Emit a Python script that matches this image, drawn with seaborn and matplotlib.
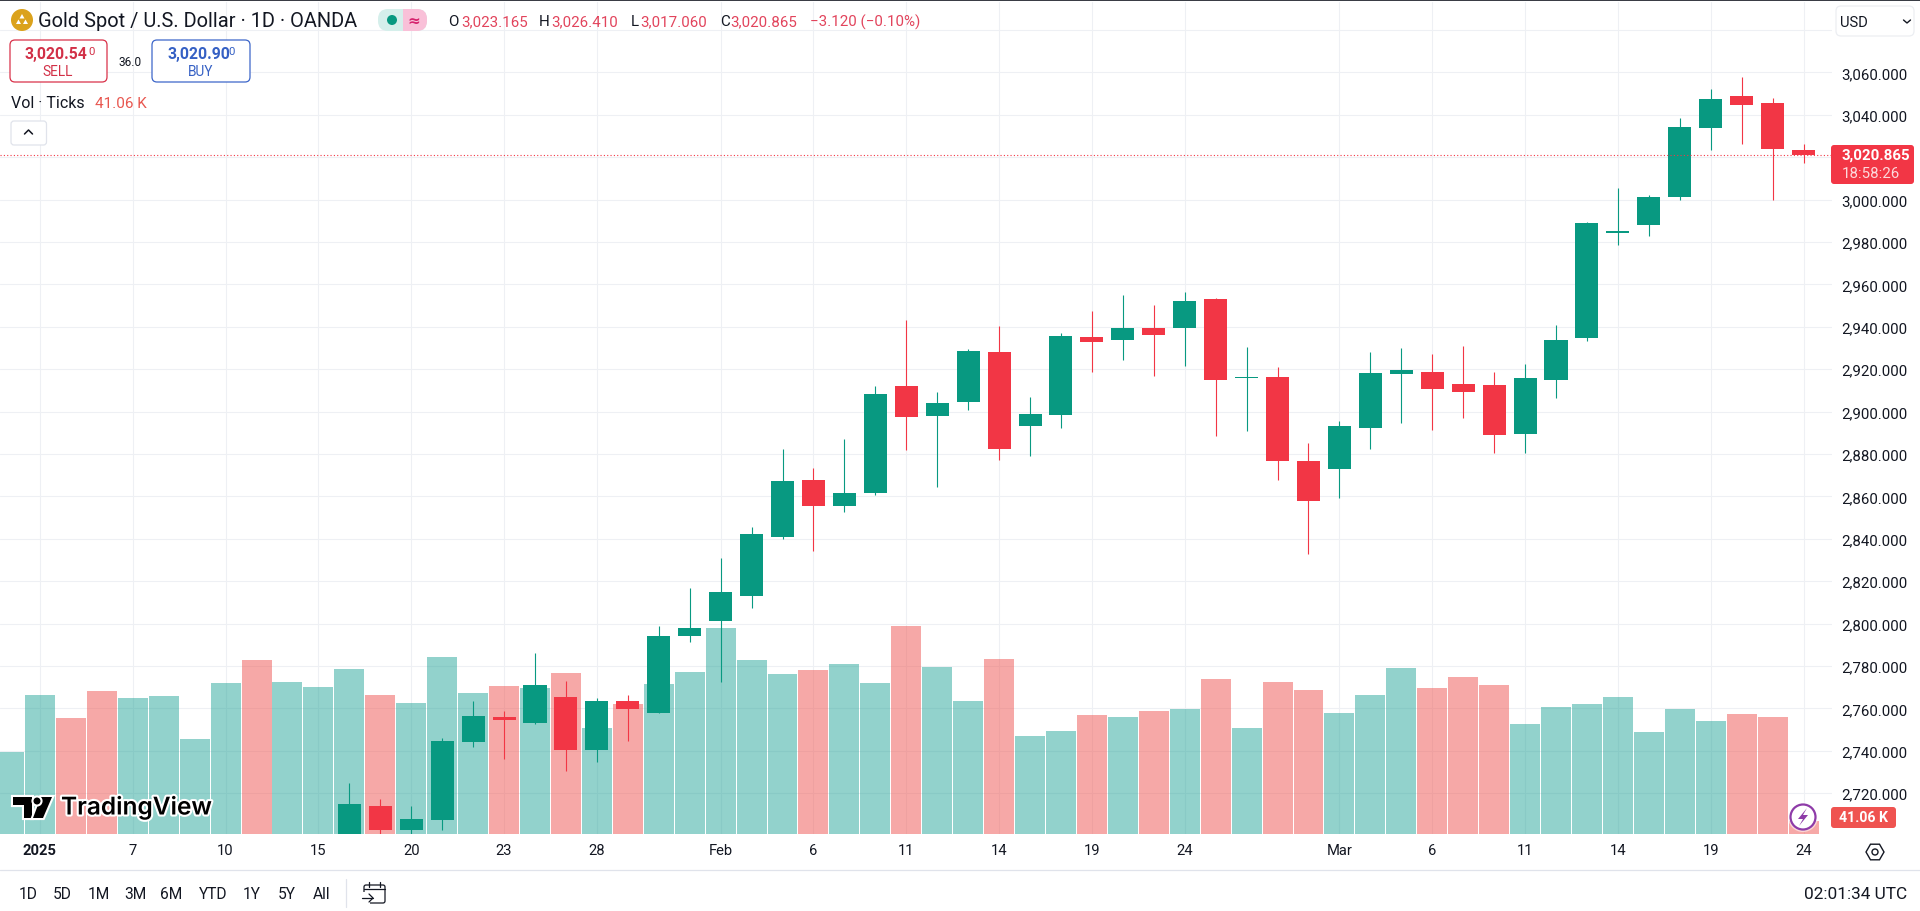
import matplotlib
matplotlib.use("Agg")
import matplotlib.pyplot as plt
import matplotlib.patheffects as pe
from matplotlib.patches import Circle, FancyBboxPatch, Polygon, Rectangle, RegularPolygon
import pandas as pd
import seaborn as sns

GREEN = "#089981"
RED = "#F23645"
VOL_GREEN = "#26a69a"
VOL_RED = "#ef5350"
TEXT = "#131722"

# daily candles, the first eleven sessions sit below the visible price range
candle_index = list(range(11, 59))
opens = [2695.0, 2714.0, 2702.8, 2707.6, 2744.2, 2756.1, 2753.2, 2765.4, 2740.4, 2763.5, 2757.9, 2794.2,
         2801.4, 2813.2, 2840.9, 2867.8, 2855.5, 2861.6, 2912.1, 2898.0, 2904.6, 2928.1, 2893.2, 2898.4,
         2935.2, 2933.8, 2939.5, 2939.5, 2953.1, 2915.9, 2916.4, 2876.7, 2873.0, 2892.3, 2917.8, 2918.7,
         2913.0, 2912.6, 2889.5, 2914.9, 2934.7, 2984.3, 2988.0, 3001.2, 3033.8, 3048.9, 3045.6, 3023.165]
highs = [2724.9, 2717.3, 2714.0, 2745.9, 2763.5, 2758.8, 2786.2, 2773.1, 2764.9, 2766.4, 2798.9, 2816.8,
         2831.0, 2845.6, 2882.4, 2873.4, 2887.1, 2912.1, 2943.2, 2909.3, 2929.6, 2940.4, 2906.9, 2937.1,
         2947.5, 2955.0, 2950.3, 2956.4, 2953.6, 2930.5, 2921.1, 2885.2, 2895.6, 2928.1, 2930.0, 2927.2,
         2931.0, 2918.7, 2922.5, 2940.9, 2989.4, 3005.5, 3002.2, 3038.5, 3052.2, 3057.8, 3047.9, 3026.41]
lows = [2690.0, 2700.4, 2700.8, 2702.8, 2741.8, 2736.2, 2752.7, 2730.5, 2734.8, 2744.7, 2757.9, 2791.4,
        2772.7, 2807.6, 2840.0, 2834.3, 2852.7, 2860.7, 2881.9, 2864.5, 2900.8, 2877.2, 2879.1, 2892.3,
        2918.7, 2924.4, 2916.8, 2921.5, 2888.5, 2890.9, 2867.8, 2832.9, 2859.3, 2882.4, 2894.7, 2891.4,
        2897.0, 2880.5, 2880.5, 2906.4, 2933.3, 2978.6, 2982.8, 2999.8, 3023.4, 3026.2, 2999.8, 3017.06]
closes = [2715.0, 2702.8, 2707.9, 2744.7, 2756.5, 2754.6, 2771.1, 2740.4, 2763.5, 2759.8, 2794.2, 2798.0,
          2815.0, 2842.3, 2867.3, 2855.5, 2861.6, 2908.3, 2897.5, 2904.1, 2928.6, 2882.4, 2898.9, 2935.7,
          2932.9, 2939.5, 2936.2, 2952.2, 2914.9, 2916.4, 2876.7, 2857.9, 2893.2, 2918.2, 2919.7, 2910.7,
          2909.3, 2889.0, 2915.9, 2933.8, 2989.0, 2985.0, 3001.2, 3034.2, 3047.4, 3044.6, 3023.9, 3020.865]

# tick volume in thousands, one bar per session from the left edge
volume = [259, 439, 366, 452, 429, 436, 300, 477, 549, 480, 464, 521, 439, 414, 559, 445, 467, 461, 508, 335,
          411, 474, 512, 651, 549, 505, 518, 537, 477, 657, 527, 420, 553, 309, 325, 376, 369, 388, 395, 489,
          335, 480, 455, 382, 439, 524, 461, 496, 471, 347, 401, 411, 433, 322, 395, 357, 379, 369, 41.06]
volume_side = ["u", "u", "d", "d", "u", "u", "u", "u", "d", "u", "u", "u", "d", "u", "u", "u", "d", "u", "d", "u",
               "d", "u", "u", "u", "u", "u", "d", "u", "u", "d", "u", "u", "d", "u", "u", "d", "u", "d", "u", "d",
               "u", "d", "d", "u", "u", "u", "d", "d", "d", "u", "u", "u", "u", "u", "u", "u", "d", "d", "d"]

price_ticks = list(range(2720, 3081, 20))
date_positions = [1, 4, 7, 10, 13, 16, 19, 23, 26, 29, 32, 35, 38, 43, 46, 49, 52, 55, 58]
date_labels = ["2025", "7", "10", "15", "20", "23", "28", "Feb", "6", "11", "14", "19", "24", "Mar", "6", "11", "14", "19", "24"]
last_close = 3020.865

sns.set_theme(style="white")
plt.rcParams["font.family"] = ["Roboto", "DejaVu Sans"]

fig = plt.figure(figsize=(19.2, 9.12), dpi=100)
fig.patch.set_facecolor("white")

# pane runs 0-1832 px across and 3-835 px down
ax = fig.add_axes([0, 1 - 835 / 912, 1832 / 1920, 832 / 912])
ax_vol = ax.twinx()
ax_candle = ax.twinx()
ax.set_zorder(1)
ax_vol.set_zorder(2)
ax_candle.set_zorder(3)

vol_df = pd.DataFrame({"session": range(len(volume)), "volume": volume, "side": volume_side})
sns.barplot(data=vol_df, x="session", y="volume", hue="side", palette={"u": VOL_GREEN, "d": VOL_RED},
            native_scale=True, dodge=False, width=0.968, saturation=1, alpha=0.5, linewidth=0,
            legend=False, ax=ax_vol)

candles = pd.DataFrame({"session": candle_index, "open": opens, "high": highs, "low": lows, "close": closes})
candles["color"] = [GREEN if c >= o else RED for o, c in zip(candles["open"], candles["close"])]
ax_candle.vlines(candles["session"], candles["low"], candles["high"], colors=candles["color"], linewidth=0.8)
ax_candle.bar(candles["session"], (candles["close"] - candles["open"]).abs(),
              bottom=candles[["open", "close"]].min(axis=1), width=0.745, color=candles["color"], linewidth=0)
ax_candle.axhline(last_close, color=RED, linewidth=0.8, linestyle=(0, (1, 2)))

ax.set_xlim(-0.291, 58.92)
ax.set_ylim(2700.8, 3093.2)
ax_candle.set_ylim(2700.8, 3093.2)
ax_vol.set_ylim(0, 2627)
ax_vol.set_xlabel("")
ax_vol.set_ylabel("")
ax_vol.set_yticks([])
ax_candle.set_yticks([])

ax.grid(True, color="#eef0f4", linewidth=0.8)
ax.set_axisbelow(True)
ax.yaxis.tick_right()
ax.set_yticks(price_ticks)
ax.set_yticklabels([f"{p:,}.000" if p < 3080 else "" for p in price_ticks])
ax.set_xticks(date_positions)
ax.set_xticklabels(date_labels)
ax.tick_params(axis="y", length=0, pad=7, labelsize=10.8, labelcolor=TEXT)
ax.tick_params(axis="x", length=0, pad=6.5, labelsize=10.6, labelcolor=TEXT)
ax.get_xticklabels()[0].set_fontweight("bold")
for a in (ax, ax_vol, ax_candle):
    for spine in a.spines.values():
        spine.set_visible(False)

# everything around the chart is drawn on a pixel overlay
ov = fig.add_axes([0, 0, 1, 1], zorder=10)
ov.set_xlim(0, 1920)
ov.set_ylim(912, 0)
ov.axis("off")
ov.patch.set_visible(False)


def label(x, y, s, size=10.5, color=TEXT, ha="left", weight="normal", **kw):
    return ov.text(x, y, s, fontsize=size, color=color, ha=ha, va="center", fontweight=weight, **kw)


def box(x0, y0, x1, y1, edge, face="white", radius=5, lw=0.9):
    ov.add_patch(FancyBboxPatch((x0, y0), x1 - x0, y1 - y0, boxstyle=f"round,pad=0,rounding_size={radius}",
                                edgecolor=edge, facecolor=face, linewidth=lw))


ov.add_patch(Rectangle((0, 0), 1920, 2, color="#3a3d45", linewidth=0))
ov.plot([0, 1920], [870.7, 870.7], color="#e0e3eb", linewidth=0.9)

# symbol header
ov.add_patch(Circle((22, 21), 11, color="#DBA21C", linewidth=0))
for tri in ([(16, 25), (21, 25), (18.5, 20.5)], [(23, 25), (28, 25), (25.5, 20.5)], [(19.5, 19.5), (24.5, 19.5), (22, 15)]):
    ov.add_patch(Polygon(tri, color="white", linewidth=0))
label(38.5, 21.5, "Gold Spot / U.S. Dollar · 1D · OANDA", size=14.4)

ov.add_patch(FancyBboxPatch((378, 10), 49, 22, boxstyle="round,pad=0,rounding_size=10", facecolor="#d5efeb", linewidth=0))
clip_pill = FancyBboxPatch((378, 10), 49, 22, boxstyle="round,pad=0,rounding_size=10", facecolor="#f9c0d8", linewidth=0)
ov.add_patch(clip_pill)
clip_pill.set_clip_path(Rectangle((403, 0), 40, 50, transform=ov.transData))
ov.add_patch(Circle((392, 21), 5, color=GREEN, linewidth=0))
label(414, 21, "≈", size=11, color="#d6246e", ha="center", weight="bold", family="DejaVu Sans")

VAL = "#e2445c"
for x, s, c in [(448, "O", TEXT), (461, "3,023.165", VAL), (539, "H", TEXT), (551, "3,026.410", VAL),
                (631, "L", TEXT), (640, "3,017.060", VAL), (720, "C", TEXT), (730, "3,020.865", VAL),
                (810, "−3.120 (−0.10%)", VAL)]:
    label(x, 22, s, size=10.9, color=c)

# sell / buy buttons
box(10, 41, 107, 83, "#d9324a")
label(24.5, 55, "3,020.54", size=11.3, color="#d23047", weight="bold")
label(88, 52, "0", size=8.2, color="#d23047")
label(58, 72, "SELL", size=9.8, color="#d23047", ha="center")
label(130, 62, "36.0", size=8.6, ha="center")
box(152, 41, 250, 83, "#3d66c9")
label(167, 55, "3,020.90", size=11.3, color="#3560c4", weight="bold")
label(228, 52, "0", size=8.2, color="#3560c4")
label(201, 72, "BUY", size=9.8, color="#3560c4", ha="center")

label(11, 104, "Vol · Ticks", size=11.5)
label(95, 104, "41.06 K", size=11, color="#e8564f")
box(11, 122, 46.5, 146, "#e0e3eb", radius=3)
ov.plot([24.5, 28.5, 32.5], [135, 131, 135], color=TEXT, linewidth=1.1)

# currency selector and price tags
box(1836, 7, 1914, 37, "#eceef2", radius=5)
label(1840, 23, "USD", size=10.6)
ov.plot([1903.5, 1907, 1910.5], [21, 24, 21], color=TEXT, linewidth=1)
box(1831, 146, 1914, 185, RED, face=RED, radius=3, lw=0)
label(1842, 156, "3,020.865", size=10.8, color="white", weight="bold")
label(1842, 174, "18:58:26", size=10.8, color="#fcd9dc")
box(1831, 808, 1896, 829, VOL_RED, face=VOL_RED, radius=3, lw=0)
label(1863.5, 818.5, "41.06 K", size=10.2, color="white", ha="center", weight="bold")

# lightning badge
ov.add_patch(Circle((1803, 818), 15, color="white", alpha=0.55, linewidth=0))
ov.add_patch(Circle((1803, 818), 12.5, facecolor="white", edgecolor="#8e3ba8", linewidth=1.6))
ov.add_patch(Polygon([(1807, 809), (1798, 820), (1803, 820), (1799, 827), (1808, 816), (1803, 816)],
                     color="#8e3ba8", linewidth=0))

# TradingView watermark
halo = [pe.withStroke(linewidth=3, foreground="white")]
for shape in ([(13, 798), (32, 798), (32, 819), (24, 819), (24, 806), (13, 806)],
              [(41, 798), (52, 798), (43, 819), (33, 819)]):
    p = Polygon(shape, color="black", linewidth=0)
    p.set_path_effects(halo)
    ov.add_patch(p)
dot = Circle((37, 802), 3.5, color="black", linewidth=0)
dot.set_path_effects(halo)
ov.add_patch(dot)
label(61, 808, "TradingView", size=17.6, color="black", weight="semibold", family="Inter", path_effects=halo)

# settings hexagon
ov.add_patch(RegularPolygon((1875, 853), 6, radius=9, orientation=0.5236, fill=False, edgecolor=TEXT, linewidth=1))
ov.add_patch(Circle((1875, 853), 3, fill=False, edgecolor=TEXT, linewidth=1))

# range toolbar
for x, s in [(28, "1D"), (62, "5D"), (99, "1M"), (135, "3M"), (171, "6M"), (213, "YTD"), (252, "1Y"), (287, "5Y"), (322, "All")]:
    label(x, 895, s, size=11.2, ha="center")
ov.plot([346, 346], [880, 908], color="#e0e3eb", linewidth=0.9)
box(364, 886, 385, 904, TEXT, radius=2, lw=0.9)
ov.add_patch(Rectangle((360, 893), 10, 14, color="white", linewidth=0))
ov.plot([364, 385], [890, 890], color=TEXT, linewidth=0.9)
ov.plot([369, 369], [883, 888], color=TEXT, linewidth=0.9)
ov.plot([380, 380], [883, 888], color=TEXT, linewidth=0.9)
ov.plot([362, 373], [899, 899], color=TEXT, linewidth=0.9)
ov.plot([369, 373, 369], [895, 899, 903], color=TEXT, linewidth=0.9)
label(1907, 895, "02:01:34 UTC", size=12.4, ha="right")

fig.savefig("out.png", dpi=100)
